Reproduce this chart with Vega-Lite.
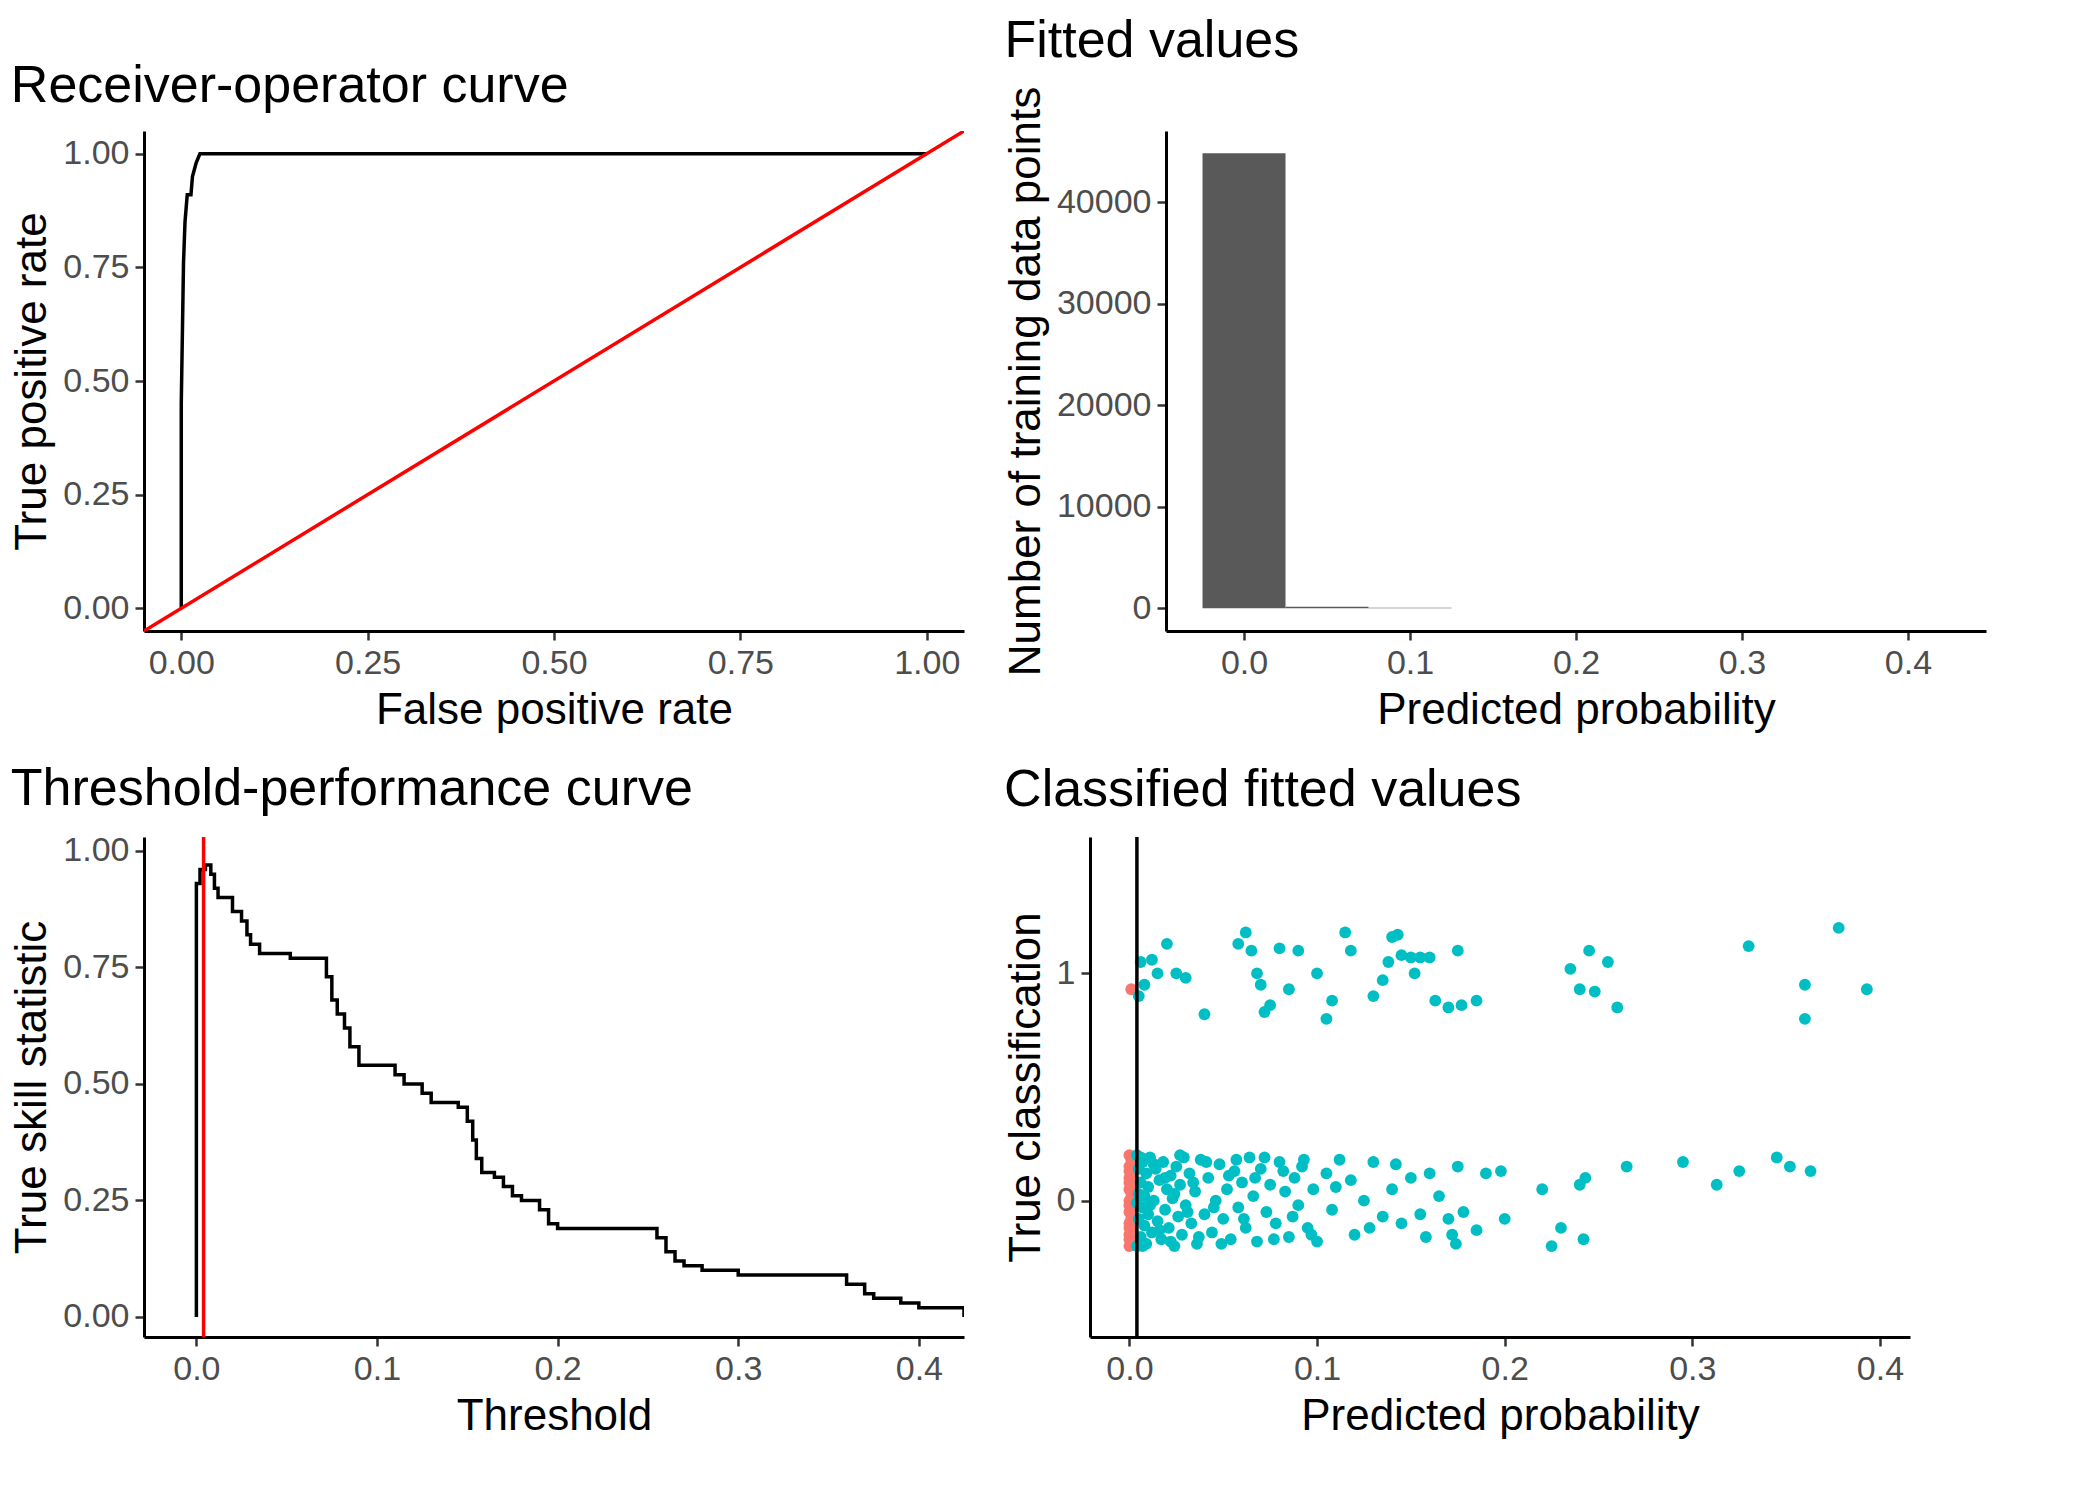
{
  "$schema": "https://vega.github.io/schema/vega-lite/v6.json",
  "background": "white",
  "padding": {"left": 10, "top": 15, "right": 20, "bottom": 5},
  "spacing": 30,
  "config": {
    "font": "Liberation Sans",
    "view": {"stroke": null},
    "title": {"fontSize": 52, "fontWeight": "normal", "anchor": "start", "color": "black", "offset": 18},
    "axis": {"grid": false, "domainColor": "black", "domainWidth": 3, "tickColor": "#333333", "tickWidth": 2.5, "tickSize": 9, "labelColor": "#4D4D4D", "labelFontSize": 34, "titleFontSize": 44, "titleFontWeight": "normal", "titleColor": "black", "labelPadding": 6, "titlePadding": 8},
    "concat": {"spacing": 40}
  },
  "datasets": {
    "roc": [
      {"fpr": 0, "tpr": 0}, {"fpr": 0, "tpr": 0.45}, {"fpr": 0.003, "tpr": 0.76}, {"fpr": 0.005, "tpr": 0.85},
      {"fpr": 0.008, "tpr": 0.91}, {"fpr": 0.013, "tpr": 0.91}, {"fpr": 0.015, "tpr": 0.95}, {"fpr": 0.02, "tpr": 0.98},
      {"fpr": 0.025, "tpr": 1}, {"fpr": 1, "tpr": 1}
    ],
    "diag": [{"a": -0.1}, {"a": 1.1}],
    "hist": [
      {"b0": -0.025, "b1": 0.025, "n": 44800},
      {"b0": 0.025, "b1": 0.075, "n": 150},
      {"b0": 0.075, "b1": 0.125, "n": 40}
    ],
    "tss": [
      {"t": 0, "s": 0}, {"t": 0, "s": 0.93}, {"t": 0.002, "s": 0.96}, {"t": 0.005, "s": 0.97}, {"t": 0.008, "s": 0.95},
      {"t": 0.01, "s": 0.92}, {"t": 0.012, "s": 0.9}, {"t": 0.018, "s": 0.9}, {"t": 0.02, "s": 0.87}, {"t": 0.025, "s": 0.85},
      {"t": 0.028, "s": 0.82}, {"t": 0.03, "s": 0.8}, {"t": 0.035, "s": 0.78}, {"t": 0.05, "s": 0.78}, {"t": 0.052, "s": 0.77},
      {"t": 0.07, "s": 0.77}, {"t": 0.072, "s": 0.73}, {"t": 0.075, "s": 0.68}, {"t": 0.078, "s": 0.65}, {"t": 0.082, "s": 0.62},
      {"t": 0.085, "s": 0.58}, {"t": 0.09, "s": 0.54}, {"t": 0.1, "s": 0.54}, {"t": 0.11, "s": 0.52}, {"t": 0.115, "s": 0.5},
      {"t": 0.125, "s": 0.48}, {"t": 0.13, "s": 0.46}, {"t": 0.145, "s": 0.45}, {"t": 0.15, "s": 0.42}, {"t": 0.153, "s": 0.38},
      {"t": 0.155, "s": 0.34}, {"t": 0.158, "s": 0.31}, {"t": 0.165, "s": 0.3}, {"t": 0.17, "s": 0.28}, {"t": 0.175, "s": 0.26},
      {"t": 0.18, "s": 0.25}, {"t": 0.19, "s": 0.23}, {"t": 0.195, "s": 0.2}, {"t": 0.2, "s": 0.19}, {"t": 0.25, "s": 0.19},
      {"t": 0.255, "s": 0.17}, {"t": 0.26, "s": 0.14}, {"t": 0.265, "s": 0.12}, {"t": 0.27, "s": 0.11}, {"t": 0.28, "s": 0.1},
      {"t": 0.3, "s": 0.09}, {"t": 0.35, "s": 0.09}, {"t": 0.36, "s": 0.07}, {"t": 0.37, "s": 0.05}, {"t": 0.375, "s": 0.04},
      {"t": 0.39, "s": 0.03}, {"t": 0.4, "s": 0.02}, {"t": 0.425, "s": 0.0}
    ],
    "thr": [{"t": 0.004}],
    "pts": [
      {"x": 0.0, "y": -0.2, "c": "0"}, {"x": 0.0, "y": -0.15, "c": "0"}, {"x": 0.0, "y": -0.1, "c": "0"}, {"x": 0.0, "y": -0.05, "c": "0"},
      {"x": 0.0, "y": 0.0, "c": "0"}, {"x": 0.0, "y": 0.05, "c": "0"}, {"x": 0.0, "y": 0.1, "c": "0"}, {"x": 0.0, "y": 0.15, "c": "0"},
      {"x": 0.0, "y": 0.2, "c": "0"}, {"x": 0.001, "y": -0.18, "c": "0"}, {"x": 0.001, "y": -0.08, "c": "0"}, {"x": 0.001, "y": 0.03, "c": "0"},
      {"x": 0.001, "y": 0.12, "c": "0"}, {"x": 0.001, "y": 0.18, "c": "0"}, {"x": 0.0, "y": -0.12, "c": "0"}, {"x": 0.0, "y": 0.08, "c": "0"},
      {"x": 0.0, "y": -0.17, "c": "0"}, {"x": 0.0, "y": -0.02, "c": "0"}, {"x": 0.0, "y": 0.13, "c": "0"}, {"x": 0.001, "y": -0.13, "c": "0"},
      {"x": 0.001, "y": 0.07, "c": "0"}, {"x": 0.001, "y": -0.03, "c": "0"},
      {"x": 0.001, "y": 0.93, "c": "0"},
      {"x": 0.006, "y": 1.05, "c": "1"}, {"x": 0.005, "y": 0.9, "c": "1"}, {"x": 0.008, "y": 0.95, "c": "1"}, {"x": 0.012, "y": 1.06, "c": "1"},
      {"x": 0.015, "y": 1.0, "c": "1"}, {"x": 0.02, "y": 1.13, "c": "1"}, {"x": 0.025, "y": 1.0, "c": "1"}, {"x": 0.03, "y": 0.98, "c": "1"},
      {"x": 0.04, "y": 0.82, "c": "1"}, {"x": 0.058, "y": 1.13, "c": "1"}, {"x": 0.062, "y": 1.18, "c": "1"}, {"x": 0.065, "y": 1.1, "c": "1"},
      {"x": 0.068, "y": 1.0, "c": "1"}, {"x": 0.07, "y": 0.95, "c": "1"}, {"x": 0.072, "y": 0.83, "c": "1"}, {"x": 0.075, "y": 0.86, "c": "1"},
      {"x": 0.08, "y": 1.11, "c": "1"}, {"x": 0.085, "y": 0.93, "c": "1"}, {"x": 0.09, "y": 1.1, "c": "1"}, {"x": 0.1, "y": 1.0, "c": "1"},
      {"x": 0.105, "y": 0.8, "c": "1"}, {"x": 0.108, "y": 0.88, "c": "1"}, {"x": 0.115, "y": 1.18, "c": "1"}, {"x": 0.118, "y": 1.1, "c": "1"},
      {"x": 0.13, "y": 0.9, "c": "1"}, {"x": 0.135, "y": 0.97, "c": "1"}, {"x": 0.138, "y": 1.05, "c": "1"}, {"x": 0.14, "y": 1.16, "c": "1"},
      {"x": 0.143, "y": 1.17, "c": "1"}, {"x": 0.145, "y": 1.08, "c": "1"}, {"x": 0.15, "y": 1.07, "c": "1"}, {"x": 0.152, "y": 1.0, "c": "1"},
      {"x": 0.155, "y": 1.07, "c": "1"}, {"x": 0.16, "y": 1.07, "c": "1"}, {"x": 0.163, "y": 0.88, "c": "1"}, {"x": 0.17, "y": 0.85, "c": "1"},
      {"x": 0.175, "y": 1.1, "c": "1"}, {"x": 0.177, "y": 0.86, "c": "1"}, {"x": 0.185, "y": 0.88, "c": "1"}, {"x": 0.235, "y": 1.02, "c": "1"},
      {"x": 0.24, "y": 0.93, "c": "1"}, {"x": 0.245, "y": 1.1, "c": "1"}, {"x": 0.248, "y": 0.92, "c": "1"}, {"x": 0.255, "y": 1.05, "c": "1"},
      {"x": 0.26, "y": 0.85, "c": "1"}, {"x": 0.33, "y": 1.12, "c": "1"}, {"x": 0.36, "y": 0.95, "c": "1"}, {"x": 0.36, "y": 0.8, "c": "1"},
      {"x": 0.378, "y": 1.2, "c": "1"}, {"x": 0.393, "y": 0.93, "c": "1"},
      {"x": 0.22, "y": 0.05, "c": "1"}, {"x": 0.23, "y": -0.12, "c": "1"}, {"x": 0.225, "y": -0.2, "c": "1"}, {"x": 0.24, "y": 0.07, "c": "1"},
      {"x": 0.243, "y": 0.1, "c": "1"}, {"x": 0.242, "y": -0.17, "c": "1"}, {"x": 0.265, "y": 0.15, "c": "1"}, {"x": 0.295, "y": 0.17, "c": "1"},
      {"x": 0.313, "y": 0.07, "c": "1"}, {"x": 0.325, "y": 0.13, "c": "1"}, {"x": 0.345, "y": 0.19, "c": "1"}, {"x": 0.352, "y": 0.15, "c": "1"},
      {"x": 0.363, "y": 0.13, "c": "1"}, {"x": 0.2, "y": -0.08, "c": "1"}, {"x": 0.198, "y": 0.13, "c": "1"}, {"x": 0.19, "y": 0.12, "c": "1"},
      {"x": 0.175, "y": 0.15, "c": "1"}, {"x": 0.172, "y": -0.15, "c": "1"}, {"x": 0.17, "y": -0.08, "c": "1"}, {"x": 0.165, "y": 0.02, "c": "1"},
      {"x": 0.16, "y": 0.12, "c": "1"}, {"x": 0.155, "y": -0.06, "c": "1"}, {"x": 0.15, "y": 0.1, "c": "1"}, {"x": 0.145, "y": -0.1, "c": "1"},
      {"x": 0.14, "y": 0.05, "c": "1"}, {"x": 0.135, "y": -0.07, "c": "1"}, {"x": 0.13, "y": 0.17, "c": "1"}, {"x": 0.125, "y": 0.0, "c": "1"},
      {"x": 0.12, "y": -0.15, "c": "1"}, {"x": 0.118, "y": 0.09, "c": "1"}, {"x": 0.112, "y": 0.18, "c": "1"}, {"x": 0.108, "y": -0.04, "c": "1"},
      {"x": 0.105, "y": 0.12, "c": "1"}, {"x": 0.1, "y": -0.18, "c": "1"}, {"x": 0.098, "y": 0.05, "c": "1"}, {"x": 0.095, "y": -0.12, "c": "1"},
      {"x": 0.092, "y": 0.15, "c": "1"}, {"x": 0.09, "y": -0.02, "c": "1"}, {"x": 0.088, "y": 0.1, "c": "1"}, {"x": 0.085, "y": -0.16, "c": "1"},
      {"x": 0.083, "y": 0.04, "c": "1"}, {"x": 0.08, "y": 0.17, "c": "1"}, {"x": 0.078, "y": -0.1, "c": "1"}, {"x": 0.075, "y": 0.07, "c": "1"},
      {"x": 0.073, "y": -0.05, "c": "1"}, {"x": 0.07, "y": 0.14, "c": "1"}, {"x": 0.068, "y": -0.18, "c": "1"}, {"x": 0.066, "y": 0.02, "c": "1"},
      {"x": 0.064, "y": 0.19, "c": "1"}, {"x": 0.062, "y": -0.12, "c": "1"}, {"x": 0.06, "y": 0.08, "c": "1"}, {"x": 0.058, "y": -0.03, "c": "1"},
      {"x": 0.056, "y": 0.13, "c": "1"}, {"x": 0.054, "y": -0.17, "c": "1"}, {"x": 0.052, "y": 0.05, "c": "1"}, {"x": 0.05, "y": -0.08, "c": "1"},
      {"x": 0.048, "y": 0.16, "c": "1"}, {"x": 0.046, "y": 0.0, "c": "1"}, {"x": 0.044, "y": -0.14, "c": "1"}, {"x": 0.042, "y": 0.1, "c": "1"},
      {"x": 0.04, "y": -0.06, "c": "1"}, {"x": 0.038, "y": 0.18, "c": "1"}, {"x": 0.036, "y": -0.19, "c": "1"}, {"x": 0.035, "y": 0.04, "c": "1"},
      {"x": 0.033, "y": -0.1, "c": "1"}, {"x": 0.032, "y": 0.12, "c": "1"}, {"x": 0.03, "y": -0.02, "c": "1"}, {"x": 0.029, "y": 0.19, "c": "1"},
      {"x": 0.028, "y": -0.15, "c": "1"}, {"x": 0.027, "y": 0.07, "c": "1"}, {"x": 0.026, "y": -0.07, "c": "1"}, {"x": 0.025, "y": 0.15, "c": "1"},
      {"x": 0.024, "y": -0.2, "c": "1"}, {"x": 0.023, "y": 0.01, "c": "1"}, {"x": 0.022, "y": 0.11, "c": "1"}, {"x": 0.021, "y": -0.12, "c": "1"},
      {"x": 0.02, "y": 0.05, "c": "1"}, {"x": 0.019, "y": -0.04, "c": "1"}, {"x": 0.018, "y": 0.17, "c": "1"}, {"x": 0.017, "y": -0.17, "c": "1"},
      {"x": 0.016, "y": 0.09, "c": "1"}, {"x": 0.015, "y": -0.09, "c": "1"}, {"x": 0.014, "y": 0.14, "c": "1"}, {"x": 0.013, "y": 0.0, "c": "1"},
      {"x": 0.012, "y": -0.14, "c": "1"}, {"x": 0.011, "y": 0.19, "c": "1"}, {"x": 0.01, "y": 0.06, "c": "1"}, {"x": 0.01, "y": -0.06, "c": "1"},
      {"x": 0.009, "y": -0.19, "c": "1"}, {"x": 0.009, "y": 0.12, "c": "1"}, {"x": 0.008, "y": 0.02, "c": "1"}, {"x": 0.008, "y": -0.11, "c": "1"},
      {"x": 0.007, "y": 0.17, "c": "1"}, {"x": 0.007, "y": -0.03, "c": "1"}, {"x": 0.006, "y": 0.08, "c": "1"}, {"x": 0.006, "y": -0.16, "c": "1"},
      {"x": 0.005, "y": 0.14, "c": "1"}, {"x": 0.005, "y": -0.08, "c": "1"}, {"x": 0.005, "y": 0.03, "c": "1"}, {"x": 0.004, "y": 0.2, "c": "1"},
      {"x": 0.004, "y": -0.2, "c": "1"}, {"x": 0.004, "y": -0.01, "c": "1"}, {"x": 0.006, "y": 0.19, "c": "1"}, {"x": 0.007, "y": -0.2, "c": "1"},
      {"x": 0.011, "y": -0.02, "c": "1"}, {"x": 0.013, "y": 0.16, "c": "1"}, {"x": 0.016, "y": -0.13, "c": "1"}, {"x": 0.019, "y": 0.1, "c": "1"},
      {"x": 0.022, "y": -0.18, "c": "1"}, {"x": 0.024, "y": 0.03, "c": "1"}, {"x": 0.027, "y": 0.2, "c": "1"}, {"x": 0.031, "y": -0.05, "c": "1"},
      {"x": 0.034, "y": 0.08, "c": "1"}, {"x": 0.037, "y": -0.16, "c": "1"}, {"x": 0.041, "y": 0.17, "c": "1"}, {"x": 0.045, "y": -0.03, "c": "1"},
      {"x": 0.049, "y": -0.19, "c": "1"}, {"x": 0.053, "y": 0.11, "c": "1"}, {"x": 0.057, "y": 0.18, "c": "1"}, {"x": 0.061, "y": -0.08, "c": "1"},
      {"x": 0.067, "y": 0.1, "c": "1"}, {"x": 0.072, "y": 0.19, "c": "1"}, {"x": 0.077, "y": -0.17, "c": "1"}, {"x": 0.082, "y": 0.13, "c": "1"},
      {"x": 0.087, "y": -0.07, "c": "1"}, {"x": 0.093, "y": 0.18, "c": "1"}, {"x": 0.097, "y": -0.15, "c": "1"}, {"x": 0.11, "y": 0.06, "c": "1"},
      {"x": 0.128, "y": -0.12, "c": "1"}, {"x": 0.142, "y": 0.16, "c": "1"}, {"x": 0.158, "y": -0.16, "c": "1"}, {"x": 0.178, "y": -0.05, "c": "1"},
      {"x": 0.185, "y": -0.13, "c": "1"}, {"x": 0.174, "y": -0.19, "c": "1"}
    ]
  },
  "vconcat": [
    {
      "hconcat": [
        {
          "title": "Receiver-operator curve",
          "width": 820, "height": 500,
          "layer": [
            {
              "data": {"name": "roc"},
              "mark": {"type": "line", "color": "black", "strokeWidth": 3.5, "clip": true},
              "encoding": {
                "x": {"field": "fpr", "type": "quantitative", "title": "False positive rate", "scale": {"domain": [-0.05, 1.05], "nice": false}, "axis": {"values": [0, 0.25, 0.5, 0.75, 1], "format": ".2f"}},
                "y": {"field": "tpr", "type": "quantitative", "title": "True positive rate", "scale": {"domain": [-0.05, 1.05], "nice": false}, "axis": {"values": [0, 0.25, 0.5, 0.75, 1], "format": ".2f"}},
                "order": {"field": "fpr"}
              }
            },
            {
              "data": {"name": "diag"},
              "mark": {"type": "line", "color": "red", "strokeWidth": 3.5, "clip": true},
              "encoding": {
                "x": {"field": "a", "type": "quantitative"},
                "y": {"field": "a", "type": "quantitative"}
              }
            }
          ]
        },
        {
          "title": "Fitted values",
          "width": 820, "height": 500,
          "data": {"name": "hist"},
          "mark": {"type": "rect", "color": "#595959"},
          "encoding": {
            "x": {"field": "b0", "type": "quantitative", "title": "Predicted probability", "scale": {"domain": [-0.047, 0.447], "nice": false}, "axis": {"values": [0, 0.1, 0.2, 0.3, 0.4], "format": ".1f"}},
            "x2": {"field": "b1"},
            "y": {"field": "n", "type": "quantitative", "title": "Number of training data points", "scale": {"domain": [-2240, 47000], "nice": false}, "axis": {"values": [0, 10000, 20000, 30000, 40000], "format": "d"}},
            "y2": {"datum": 0}
          }
        }
      ]
    },
    {
      "hconcat": [
        {
          "title": "Threshold-performance curve",
          "width": 820, "height": 500,
          "layer": [
            {
              "data": {"name": "tss"},
              "mark": {"type": "line", "color": "black", "strokeWidth": 3.5, "interpolate": "step-after", "clip": true},
              "encoding": {
                "x": {"field": "t", "type": "quantitative", "title": "Threshold", "scale": {"domain": [-0.029, 0.425], "nice": false}, "axis": {"values": [0, 0.1, 0.2, 0.3, 0.4], "format": ".1f"}},
                "y": {"field": "s", "type": "quantitative", "title": "True skill statistic", "scale": {"domain": [-0.043, 1.03], "nice": false}, "axis": {"values": [0, 0.25, 0.5, 0.75, 1], "format": ".2f"}}
              }
            },
            {
              "data": {"name": "thr"},
              "mark": {"type": "rule", "color": "red", "strokeWidth": 3.5},
              "encoding": {"x": {"field": "t", "type": "quantitative"}}
            }
          ]
        },
        {
          "title": "Classified fitted values",
          "width": 820, "height": 500,
          "layer": [
            {
              "data": {"name": "pts"},
              "mark": {"type": "circle", "size": 140, "opacity": 1},
              "encoding": {
                "x": {"field": "x", "type": "quantitative", "title": "Predicted probability", "scale": {"domain": [-0.021, 0.416], "nice": false}, "axis": {"values": [0, 0.1, 0.2, 0.3, 0.4], "format": ".1f"}},
                "y": {"field": "y", "type": "quantitative", "title": "True classification", "scale": {"domain": [-0.6, 1.6], "nice": false}, "axis": {"values": [0, 1], "format": "d"}},
                "color": {"field": "c", "type": "nominal", "scale": {"domain": ["0", "1"], "range": ["#F8766D", "#00BFC4"]}, "legend": null}
              }
            },
            {
              "data": {"name": "thr"},
              "mark": {"type": "rule", "color": "black", "strokeWidth": 3.5},
              "encoding": {"x": {"field": "t", "type": "quantitative"}}
            }
          ]
        }
      ]
    }
  ]
}
